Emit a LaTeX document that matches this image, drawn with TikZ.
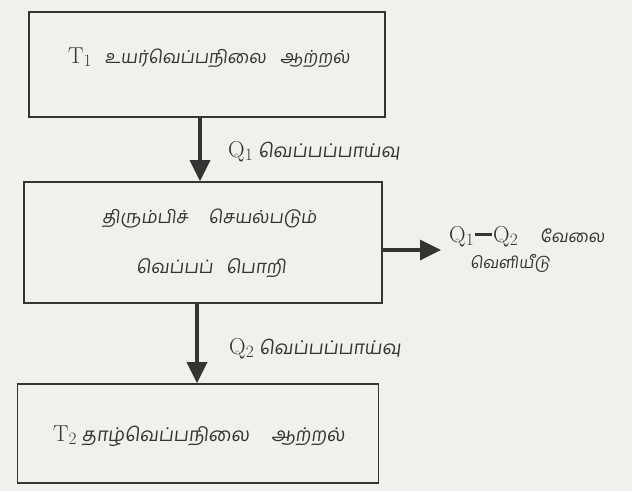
\documentclass[tikz,border=0pt]{standalone}
\usepackage{fontspec}
\usetikzlibrary{arrows.meta}
\newfontfamily\tamil[Script=Tamil,FakeSlant=0.12]{Hind Madurai}
\definecolor{bg}{RGB}{240,240,237}
\definecolor{ink}{RGB}{52,52,50}
\newcommand{\latsz}{\fontsize{23}{25}\selectfont}
\newcommand{\tsz}[1]{\tamil\fontsize{#1}{#1}\selectfont}
\newcommand{\longdash}{\hspace{1pt}\raisebox{6.5pt}{\rule{17pt}{2.2pt}}\hspace{1pt}}
\tikzset{
  blk/.style={draw=ink, line width=1.6pt, inner sep=0pt},
  flow/.style={draw=ink, line width=3.5pt, -{Triangle[length=21pt,width=20pt]}},
  txt/.style={text=ink, inner sep=0pt, anchor=base west},
}
\begin{document}
\begin{tikzpicture}[x=1pt,y=-1pt]
\path[fill=bg,use as bounding box] (0,0) rectangle (632,491);
% boxes
\node[blk, minimum width=356pt, minimum height=105pt] (b1) at (207,64.5) {};
\node[blk, minimum width=358pt, minimum height=121pt] (b2) at (203,242.5) {};
\node[blk, minimum width=361pt, minimum height=99pt] (b3) at (198,433.5) {};
% box texts
\node[txt] (t1) at (68,63) {\latsz$\mathrm{T}_{1}$\hspace{13pt}{\tsz{18}உயர்வெப்பநிலை\hspace{14pt}ஆற்றல்}};
\node[txt] (t2a) at (102,223) {\tsz{18}திரும்பிச்\hspace{20pt}செயல்படும்};
\node[txt] (t2b) at (136,273) {\tsz{18.5}வெப்பப்\hspace{13pt}பொறி};
\node[txt] (t3) at (53,441) {\latsz$\mathrm{T}_{2}$\hspace{5pt}{\tsz{19}தாழ்வெப்பநிலை\hspace{22pt}ஆற்றல்}};
% flow labels
\node[txt] (q1) at (228,157) {\latsz$\mathrm{Q}_{1}$\hspace{5pt}{\tsz{19}வெப்பப்பாய்வு}};
\node[txt] (q2) at (229,354) {\latsz$\mathrm{Q}_{2}$\hspace{5pt}{\tsz{19}வெப்பப்பாய்வு}};
\node[txt] (w1) at (449,242) {\latsz$\mathrm{Q}_{1}$\longdash$\mathrm{Q}_{2}$\hspace{22pt}{\tsz{17}வேலை}};
\node[txt] (w2) at (470,268) {\tsz{16}வெளியீடு};
% connectors
\coordinate (wend) at (441,250);
\draw[flow] (b1.south -| 200,0) -- (b2.north -| 200,0);
\draw[flow] (b2.south -| 197,0) -- (b3.north -| 197,0);
\draw[flow] (b2.east |- 0,250) -- (wend);
\end{tikzpicture}
\end{document}
